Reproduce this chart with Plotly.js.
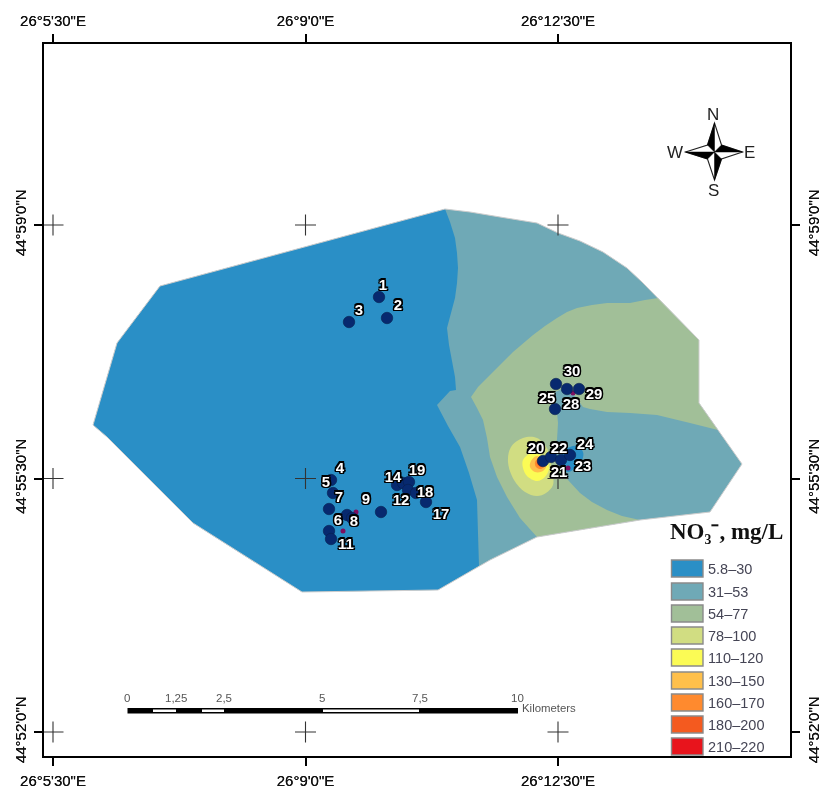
<!DOCTYPE html>
<html>
<head>
<meta charset="utf-8">
<script src="https://cdn.plot.ly/plotly-3.0.1.min.js"></script>
<style>
html,body{margin:0;padding:0;background:#fff;overflow:hidden}
#plot{width:821px;height:789px;filter:blur(0.45px)}
</style>
</head>
<body>
<div id="plot"></div>
<script>
// Map grid units: the axes run 44..790 and 44..756, with graticule lines at these values
const lonTicks = [53, 305.5, 558];
const lonLabels = ['26°5\'30"E', '26°9\'0"E', '26°12\'30"E'];
const latTicks = [225, 478.5, 732];
const latLabels = ['44°59\'0"N', '44°55\'30"N', '44°52\'0"N'];

const classLabels = ['5.8–30','31–53','54–77','78–100','110–120','130–150','160–170','180–200','210–220'];
const classColors = ['#2a8fc6','#6fa9b6','#a1bf98','#d1dd82','#fbfb55','#ffc04b','#ff8a2e','#f45a1f','#e8141c'];

// Zone outlines
const outlineX = [445,470,500,537,558,580,603,627,642,658,678,699,699,718,742,710,640,537,490,438,302,193,107,93,117,160,445];
const outlineY = [209,212,217,223,233,241,252,268,282,298,319,340,403,430,464,512,520,537,560,590,592,523,437,425,343,286,209];

const zone1X = [445,450,455,457,458,457,455,451,447,449,452,455,456,450,437,448,460,469,477,479,438,302,193,107,93,117,160];
const zone1Y = [209,222,238,253,268,283,298,313,328,345,362,377,390,391,405,426,447,473,500,566,590,592,523,437,425,343,286];
const zone1SpotX = [577,583,582,568,560,565,577];
const zone1SpotY = [446,452,460,472,465,450,446];

const zone3X = [658,699,699,718,690,657,630,607,590,583,575,565,555,555,557,558,557,552,557,568,580,592,607,622,640,537,520,507,497,490,487,483,477,471,478,487,500,513,533,545,557,567,577,592,607,630,645];
const zone3Y = [298,340,403,430,423,415,413,412,409,407,396,388,392,402,412,423,440,452,463,480,493,502,510,516,520,537,518,497,477,457,438,420,408,397,387,378,365,352,335,326,318,312,308,305,303,303,300];

const zone4X = [537,548,552,553,546,537,525,514,508,511,523,537];
const zone4Y = [438,450,470,485,493,496,492,480,462,447,438,438];
const zone5X = [532,523,523,527,537,545,549,545,532];
const zone5Y = [453,460,468,476,481,477,468,458,453];
const zone6X = [537,531,530,535,543,547,537];
const zone6Y = [456,461,467,472,471,463,456];
const zone7X = [539,535,536,541,546,539];
const zone7Y = [458,462,467,469,464,458];
const zone8X = [538,537,541,545,538];
const zone8Y = [460,464,467,463,460];
const zone9X = [541,539,542,544,541];
const zone9Y = [460,463,466,462,460];

// Sampling points
const wellX = [379,387,349,331,333,329,347,352,329,331,381,397,403,409,408,416,426,543,551,561,570,556,567,579,555];
const wellY = [297,318,322,480,493,509,515,518,531,539,512,485,483,482,490,493,502,461,457,460,455,384,389,389,409];
const minorX = [356,343,573,568];
const minorY = [512,531,393,468];

const wellLabels = ['1','2','3','4','5','6','7','8','9','11','12','14','17','18','19','20','21','22','23','24','25','28','29','30'];
const labelX = [383,398,359,340,326,338,339,354,366,346,401,393,441,425,417,536,559,559,583,585,547,571,594,572];
const labelY = [286,306,311,469,483,521,498,522,500,545,501,478,515,493,471,449,473,449,467,445,399,405,395,372];

const crossX = [53,305.5,558,53,305.5,558,53,305.5,558];
const crossY = [225,225,225,478.5,478.5,478.5,732,732,732];

// Scale bar
const scaleLabels = ['0','1,25','2,5','5','7,5','10'];

function zone(x, y, i, extra) {
  return Object.assign({
    type:'scatter', mode:'lines', x:x, y:y, fill:'toself',
    fillcolor:classColors[i], name:classLabels[i],
    line:{width:0, color:classColors[i]}, hoverinfo:'skip', showlegend:false
  }, extra || {});
}
function smoothZone(x, y, i) {
  return zone(x, y, i, {line:{width:0, color:classColors[i], shape:'spline', smoothing:1}});
}

const stroke = '1.6px 0 0 #000,-1.6px 0 0 #000,0 1.6px 0 #000,0 -1.6px 0 #000,1.3px 1.3px 0 #000,-1.3px 1.3px 0 #000,1.3px -1.3px 0 #000,-1.3px -1.3px 0 #000';

const traces = [
  zone(outlineX, outlineY, 1),
  zone(zone1X, zone1Y, 0),
  zone(zone3X, zone3Y, 2),
  smoothZone(zone1SpotX, zone1SpotY, 0),
  smoothZone(zone4X, zone4Y, 3),
  smoothZone(zone5X, zone5Y, 4),
  smoothZone(zone6X, zone6Y, 5),
  smoothZone(zone7X, zone7Y, 6),
  smoothZone(zone8X, zone8Y, 7),
  smoothZone(zone9X, zone9Y, 8),
  {type:'scatter', mode:'lines', x:outlineX, y:outlineY, name:'boundary', hoverinfo:'skip',
   line:{width:1, color:'#cdcdcd'}},
  {type:'scatter', mode:'markers', x:crossX, y:crossY, name:'graticule', hoverinfo:'skip',
   marker:{symbol:'cross-thin-open', size:15, color:'#333', line:{width:1.1, color:'#333'}}},
  {type:'scatter', mode:'markers', x:minorX, y:minorY, name:'points', hoverinfo:'skip',
   marker:{size:5, color:'#7d1060'}},
  {type:'scatter', mode:'markers', x:wellX, y:wellY, name:'wells', hoverinfo:'skip',
   marker:{size:11.5, color:'#07296f', line:{width:0.6, color:'#06204f'}}},
  {type:'scatter', mode:'text', x:labelX, y:labelY, text:wellLabels, textposition:'middle center', hoverinfo:'skip', name:'labels',
   textfont:{family:'Liberation Sans', size:15, color:'#fff', weight:'bold', shadow:stroke}},
  {type:'scatter', mode:'markers', x:[lonTicks[0]], y:[latTicks[0]], xaxis:'x2', yaxis:'y2', hoverinfo:'skip',
   marker:{size:1, opacity:0}}
];

const shapes = [];
const annotations = [];

// Legend
const swatchTop = [560,583,605,627,649,672,694,716,738];
classColors.forEach((c, i) => {
  const top = swatchTop[i];
  shapes.push({type:'rect', xref:'x', yref:'y', x0:671.5, x1:703, y0:top, y1:Math.min(top+17,755.5),
    fillcolor:c, line:{color:'#8a8a8a', width:1.4}, layer:'above'});
  annotations.push({xref:'x', yref:'y', x:706, y:top+9, xanchor:'left', yanchor:'middle', showarrow:false,
    text:classLabels[i], font:{family:'Liberation Sans', size:14.5, color:'#454555'}});
});
annotations.push({xref:'x', yref:'y', x:726, y:531, xanchor:'center', yanchor:'middle', showarrow:false,
  text:'NO₃⁻, mg/L', font:{family:'Liberation Serif', size:23, color:'#111', weight:'bold'}});

// Scale bar
shapes.push({type:'rect', xref:'x', yref:'y', x0:127.5, x1:518, y0:708, y1:713.5, fillcolor:'#000', line:{width:0}, layer:'above'});
[[153,176],[202,224],[323,419]].forEach(s => shapes.push({type:'rect', xref:'x', yref:'y', x0:s[0], x1:s[1], y0:709.5, y1:712,
  fillcolor:'#fff', line:{width:0}, layer:'above'}));
[127,176,224,322,420,517].forEach((x, i) => annotations.push({xref:'x', yref:'y', x:x, y:698, showarrow:false,
  xanchor:'center', yanchor:'middle', text:scaleLabels[i], font:{family:'Liberation Sans', size:11.5, color:'#555'}}));
annotations.push({xref:'x', yref:'y', x:520, y:708, showarrow:false, xanchor:'left', yanchor:'middle',
  text:'Kilometers', font:{family:'Liberation Sans', size:11.4, color:'#555'}});

// North arrow
const cx = 714.5, cy = 152;
const wq = 7;
const dark = [
  `M${cx} ${cy-29} L${cx-wq} ${cy-wq} L${cx} ${cy} Z`,
  `M${cx+28} ${cy} L${cx+wq} ${cy-wq} L${cx} ${cy} Z`,
  `M${cx} ${cy+28} L${cx+wq} ${cy+wq} L${cx} ${cy} Z`,
  `M${cx-29} ${cy} L${cx-wq} ${cy+wq} L${cx} ${cy} Z`
];
const light = `M${cx} ${cy-29} L${cx+wq} ${cy-wq} L${cx+28} ${cy} L${cx+wq} ${cy+wq} L${cx} ${cy+28} L${cx-wq} ${cy+wq} L${cx-29} ${cy} L${cx-wq} ${cy-wq} Z`;
shapes.push({type:'path', xref:'x', yref:'y', path:light, fillcolor:'#fff', line:{color:'#222', width:1.1}, layer:'above'});
dark.forEach(p => shapes.push({type:'path', xref:'x', yref:'y', path:p, fillcolor:'#000', line:{color:'#000', width:0.5}, layer:'above'}));
[['N',713,114],['S',713,190],['W',675,152],['E',749,152]].forEach(a => annotations.push({xref:'x', yref:'y', x:a[1], y:a[2], showarrow:false,
  xanchor:'center', yanchor:'middle', text:a[0], font:{family:'Liberation Sans', size:17, color:'#222'}}));

const axisBase = {
  showgrid:false, zeroline:false, showline:true, linecolor:'#000', linewidth:2,
  ticks:'outside', ticklen:8, tickwidth:2, tickcolor:'#000', tickmode:'array',
  tickfont:{family:'Liberation Sans', size:15, color:'#111', shadow:'0 0 0.6px #000'}
};

const layout = {
  width:821, height:789, margin:{l:44, r:31, t:44, b:33, pad:0},
  paper_bgcolor:'#fff', plot_bgcolor:'#fff', showlegend:false,
  xaxis:Object.assign({}, axisBase, {range:[44,790], tickvals:lonTicks, ticktext:lonLabels, side:'bottom', ticklabelstandoff:2}),
  xaxis2:Object.assign({}, axisBase, {range:[44,790], tickvals:lonTicks, ticktext:lonLabels, side:'top', overlaying:'x', anchor:'y', ticklabelstandoff:2}),
  yaxis:Object.assign({}, axisBase, {range:[756,44], tickvals:latTicks, ticktext:latLabels, side:'left', tickangle:-90, ticklabelstandoff:2}),
  yaxis2:Object.assign({}, axisBase, {range:[756,44], tickvals:latTicks, ticktext:latLabels, side:'right', overlaying:'y', anchor:'x', tickangle:-90, ticklabelstandoff:1}),
  shapes:shapes, annotations:annotations
};

Plotly.newPlot('plot', traces, layout, {displayModeBar:false, responsive:false});
</script>
</body>
</html>
